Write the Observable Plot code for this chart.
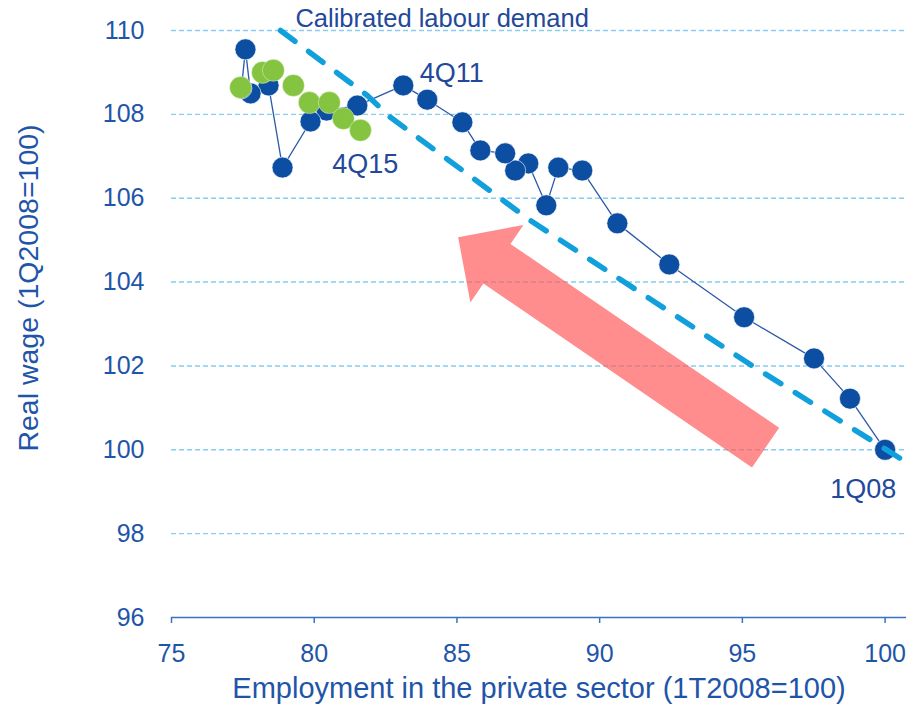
<!DOCTYPE html>
<html>
<head>
<meta charset="utf-8">
<script src="https://cdn.jsdelivr.net/npm/d3@7"></script>
<script src="https://cdn.jsdelivr.net/npm/@observablehq/plot@0.6"></script>
<style>
  html, body { margin: 0; padding: 0; background: #ffffff; }
  #chart { width: 907px; height: 704px; }
</style>
</head>
<body>
<div id="chart"></div>
<script>
// Blue series: 1Q08 .. 4Q13 (employment, real wage)
const blueEmp  = [100.0, 98.77, 97.51, 95.06, 92.44, 90.62, 89.39, 88.55, 88.13, 87.50, 87.04, 86.69, 85.82, 85.19, 83.96, 83.12, 81.51, 80.43, 79.87, 78.89, 78.40, 77.77, 77.59, 77.45];
const blueWage = [100.0, 101.22, 102.18, 103.16, 104.42, 105.40, 106.66, 106.73, 105.83, 106.83, 106.66, 107.07, 107.14, 107.81, 108.35, 108.69, 108.21, 108.09, 107.83, 106.73, 108.69, 108.50, 109.55, 108.62];
// Green series: 1Q14 .. 4Q15
const greenEmp  = [77.42, 78.19, 78.57, 79.27, 79.83, 80.53, 81.02, 81.62];
const greenWage = [108.64, 109.00, 109.05, 108.69, 108.28, 108.28, 107.90, 107.62];
// Calibrated labour demand curve
const calibEmp  = [78.82, 81.86, 82.67, 87.57, 95.17, 100.54];
const calibWage = [110.0, 108.45, 107.93, 105.47, 102.08, 99.79];
// Arrow (tail -> tip)
const arrowEmp  = [95.83, 85.06];
const arrowWage = [100.04, 105.06];
// Ticks
const xTicks = [75, 80, 85, 90, 95, 100];
const yTicks = [96, 98, 100, 102, 104, 106, 108, 110];
// Text
const xTitle = "Employment in the private sector (1T2008=100)";
const yTitle = "Real wage (1Q2008=100)";
const calibLabel = "Calibrated labour demand";
const pointLabels = [
  {text: "4Q11", x: 83.70, y: 108.97},
  {text: "4Q15", x: 80.63, y: 106.80},
  {text: "1Q08", x: 98.08, y: 99.05}
];
const calibLabelPos = {x: 79.34, y: 110.27};

const blue = blueEmp.map((x, i) => ({x, y: blueWage[i]}));
const green = greenEmp.map((x, i) => ({x, y: greenWage[i]}));
const calib = calibEmp.map((x, i) => ({x, y: calibWage[i]}));

const textBlue = "#1f55a8";
const annBlue = "#23489a";
const font = "'Liberation Sans', Arial, sans-serif";

function arrowMark(index, scales, values, dimensions) {
  const sx = scales.x, sy = scales.y;
  const cx = sx(arrowEmp[0]), cy = sy(arrowWage[0]);
  const tx = sx(arrowEmp[1]), ty = sy(arrowWage[1]);
  const len = Math.hypot(tx - cx, ty - cy);
  const ux = (tx - cx) / len, uy = (ty - cy) / len;
  const nx = -uy, ny = ux;
  const hl = 47, hw = 47, sw = 24;
  const bx = tx - ux * hl, by = ty - uy * hl;
  const pts = [
    [tx, ty],
    [bx + nx * hw, by + ny * hw],
    [bx + nx * sw, by + ny * sw],
    [cx + nx * sw, cy + ny * sw],
    [cx - nx * sw, cy - ny * sw],
    [bx - nx * sw, by - ny * sw],
    [bx - nx * hw, by - ny * hw]
  ];
  const p = document.createElementNS("http://www.w3.org/2000/svg", "path");
  p.setAttribute("d", "M" + pts.map(d => d.join(",")).join("L") + "Z");
  p.setAttribute("fill", "#ff5c5c");
  p.setAttribute("fill-opacity", "0.7");
  return p;
}

const chart = Plot.plot({
  width: 907,
  height: 704,
  marginLeft: 171,
  marginRight: 1,
  marginTop: 30,
  marginBottom: 87,
  style: {fontFamily: font, background: "#ffffff", overflow: "visible"},
  x: {domain: [75, 100.75]},
  y: {domain: [96, 110]},
  marks: [
    Plot.gridY(yTicks.filter(d => d !== 96), {stroke: "#86cdf0", strokeOpacity: 1, strokeWidth: 1.4, strokeDasharray: "5,3"}),
    arrowMark,
    Plot.ruleY([96], {stroke: "#3a72bd", strokeWidth: 1.6}),
    Plot.axisX({ticks: xTicks, tickSize: 6, tickPadding: 21, fontSize: 25, color: textBlue, stroke: "#3a72bd", strokeWidth: 1.5, label: null}),
    Plot.axisY({ticks: yTicks, tickSize: 0, tickPadding: 27, fontSize: 25, color: textBlue, label: null}),
    Plot.line(blue, {x: "x", y: "y", stroke: "#2a5aa8", strokeWidth: 1.3}),
    Plot.dot(blue, {x: "x", y: "y", r: 10.5, fill: "#0c4ea2", stroke: "#ffffff", strokeWidth: 0.6}),
    Plot.dot(green, {x: "x", y: "y", r: 11, fill: "#84c440", stroke: "#ffffff", strokeWidth: 0.4}),
    Plot.line(calib, {x: "x", y: "y", stroke: "#12a0dd", strokeWidth: 5.5, strokeDasharray: "18,17", strokeLinecap: "round"}),
    Plot.text([calibLabel], {x: () => calibLabelPos.x, y: () => calibLabelPos.y, text: d => d, textAnchor: "start", lineAnchor: "middle", fontSize: 25.5, fill: annBlue}),
    Plot.text(pointLabels, {x: "x", y: "y", text: "text", textAnchor: "start", lineAnchor: "middle", fontSize: 27, fill: annBlue}),
    Plot.text([xTitle], {frameAnchor: "bottom", text: d => d, dy: 71, lineAnchor: "middle", textAnchor: "middle", fontSize: 29, fill: textBlue}),
    Plot.text([yTitle], {frameAnchor: "left", text: d => d, rotate: -90, dx: -143, dy: -36, lineAnchor: "middle", textAnchor: "middle", fontSize: 28.5, fill: textBlue})
  ]
});
document.getElementById("chart").appendChild(chart);
</script>
</body>
</html>
